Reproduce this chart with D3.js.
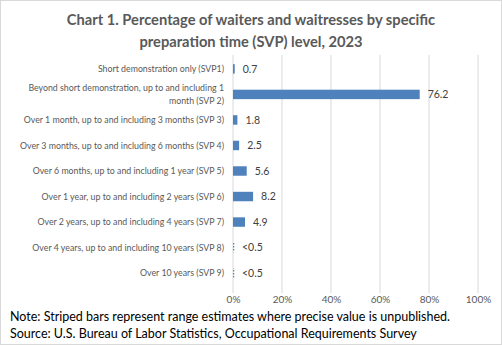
<!DOCTYPE html>
<html><head><meta charset="utf-8">
<script src="https://cdn.jsdelivr.net/npm/d3@7"></script>
<style>body{margin:0;background:#fff}svg{display:block}</style>
</head><body><svg id="c" width="502" height="345"></svg>
<script>
const titleLines = ["Chart 1. Percentage of waiters and waitresses by specific", "preparation time (SVP) level, 2023"];
const categories = [
  ["Short demonstration only (SVP1)"],
  ["Beyond short demonstration, up to and including 1", "month (SVP 2)"],
  ["Over 1 month, up to and including 3 months (SVP 3)"],
  ["Over 3 months, up to and including 6 months (SVP 4)"],
  ["Over 6 months, up to and including 1 year (SVP 5)"],
  ["Over 1 year, up to and including 2 years (SVP 6)"],
  ["Over 2 years, up to and including 4 years (SVP 7)"],
  ["Over 4 years, up to and including 10 years (SVP 8)"],
  ["Over 10 years (SVP 9)"]
];
const values = [0.7, 76.2, 1.8, 2.5, 5.6, 8.2, 4.9, 0.5, 0.5];
const valueLabels = ["0.7", "76.2", "1.8", "2.5", "5.6", "8.2", "4.9", "<0.5", "<0.5"];
const striped = [false, false, false, false, false, false, false, true, true];
const xTicks = [0, 20, 40, 60, 80, 100];
const notes = ["Note: Striped bars represent range estimates where precise value is unpublished.",
  "Source: U.S. Bureau of Labor Statistics, Occupational Requirements Survey"];

const font = "Lato, 'Open Sans', sans-serif";
const svg = d3.select("#c");
svg.append("rect").attr("x",0.5).attr("y",0.5).attr("width",501).attr("height",344)
  .attr("fill","#fff").attr("stroke","#d9d9d9");

const defs = svg.append("defs");
const pat = defs.append("pattern").attr("id","stripe").attr("patternUnits","userSpaceOnUse")
  .attr("width",4).attr("height",3);
pat.append("rect").attr("width",4).attr("height",1.5).attr("fill","#4f81bd");

svg.append("g").selectAll("text").data(titleLines).join("text")
  .attr("x",251).attr("y",(d,i)=>25+i*22).attr("text-anchor","middle")
  .attr("font-family",font).attr("font-weight","bold").attr("font-size",14.7)
  .attr("fill","#595959").text(d=>d);

const x = d3.scaleLinear().domain([0,100]).range([233,478]);
const y = d3.scaleBand().domain(d3.range(categories.length)).range([56,286]).paddingInner(0.63).paddingOuter(0.32);

const grid = svg.append("g");
grid.selectAll("line").data(xTicks).join("line")
  .attr("x1",d=>x(d)).attr("x2",d=>x(d)).attr("y1",55).attr("y2",293)
  .attr("stroke","#d9d9d9").attr("stroke-width",1);

const xAxis = svg.append("g").attr("transform","translate(0,293)")
  .call(d3.axisBottom(x).tickValues(xTicks).tickFormat(d=>d+"%").tickSize(0).tickPadding(3));
xAxis.select(".domain").remove();
xAxis.selectAll("text").attr("font-family",font).attr("font-size",10).attr("fill","#595959");

svg.append("g").selectAll("rect").data(values).join("rect")
  .attr("x",x(0)).attr("y",(d,i)=>y(i)).attr("height",y.bandwidth())
  .attr("width",(d,i)=>x(d)-x(0))
  .attr("fill",(d,i)=>striped[i]?"url(#stripe)":"#4f81bd");

svg.append("g").selectAll("text").data(values).join("text")
  .attr("x",(d,i)=>x(striped[i]?0:d)+(striped[i]?9:8)).attr("y",(d,i)=>y(i)+y.bandwidth()/2)
  .attr("dy","0.35em").attr("font-family",font).attr("font-size",10.5).attr("fill","#404040")
  .text((d,i)=>valueLabels[i]);

const cat = svg.append("g");
categories.forEach((lines,i)=>{
  const cy = y(i)+y.bandwidth()/2;
  lines.forEach((l,j)=>{
    cat.append("text").attr("x",224).attr("y",cy+(j-(lines.length-1)/2)*13)
      .attr("dy","0.35em").attr("text-anchor","end").attr("font-family",font)
      .attr("font-size",8.8).attr("fill","#595959").text(l);
  });
});

svg.append("g").selectAll("text").data(notes).join("text")
  .attr("x",10).attr("y",(d,i)=>321+i*17).attr("font-family",font).attr("font-size",12.5)
  .attr("fill","#000").text(d=>d);
</script></body></html>
